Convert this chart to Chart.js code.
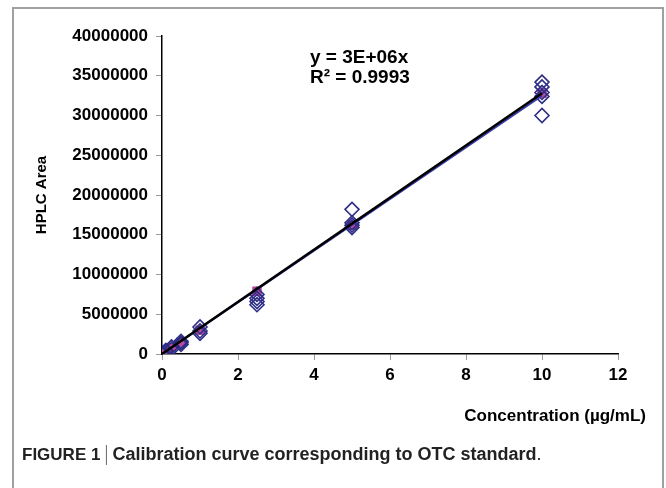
<!DOCTYPE html>
<html>
<head>
<meta charset="utf-8">
<script src="https://cdn.jsdelivr.net/npm/chart.js@4/dist/chart.umd.min.js"></script>
<style>
  html, body { margin: 0; padding: 0; background: #fff; }
  #wrap { position: relative; width: 666px; height: 488px; }
</style>
</head>
<body>
<div id="wrap"><canvas id="calibrationChart" width="666" height="488"></canvas></div>
<script>
// Concentrations (µg/mL)
const concentrations = [0, 0.1, 0.25, 0.5, 1, 2.5, 5, 10];
// Moyennes (carrés magenta)
const meanAreas = [0, 330000, 800000, 1500000, 3000000, 7900000, 16200000, 32800000];
// Réplicats (losanges)
const replicateX = [
    0, 0, 0.1, 0.1, 0.25, 0.25, 0.5, 0.5, 0.5,
    1, 1, 1, 2.5, 2.5, 2.5, 2.5,
    5, 5, 5, 5,
    10, 10, 10, 10, 10
];
const replicateY = [
    0, 100000, 300000, 450000, 600000, 900000, 1200000, 1400000, 1600000,
    3400000, 2900000, 2600000, 7500000, 7000000, 6600000, 6200000,
    18200000, 16500000, 16200000, 15900000,
    34200000, 33600000, 32900000, 32400000, 30000000
];
// Droites de tendance
const trendX = [0, 10];
const trendBlack = [0, 32800000];
const trendBlue = [0, 32500000];
const xTicks = [0, 2, 4, 6, 8, 10, 12];

const FONT = '"Liberation Sans", Arial, sans-serif';

const decorPlugin = {
    id: 'decor',
    afterDraw(chart) {
        const ctx = chart.ctx;
        ctx.save();
        // cadre gris
        ctx.strokeStyle = '#a0a0a0';
        ctx.lineWidth = 2;
        ctx.beginPath();
        ctx.moveTo(13, 500);
        ctx.lineTo(13, 8);
        ctx.lineTo(663, 8);
        ctx.lineTo(663, 500);
        ctx.stroke();

        ctx.fillStyle = '#000';
        // équation
        ctx.font = 'bold 19px ' + FONT;
        ctx.textAlign = 'left';
        ctx.textBaseline = 'middle';
        ctx.fillText('y = 3E+06x', 310, 58);
        ctx.fillText('R² = 0.9993', 310, 78);

        // titre de l'axe x
        ctx.font = 'bold 17px ' + FONT;
        ctx.textAlign = 'right';
        ctx.fillText('Concentration (µg/mL)', 646, 416);

        // titre de l'axe y
        ctx.save();
        ctx.translate(42, 195);
        ctx.rotate(-Math.PI / 2);
        ctx.textAlign = 'center';
        ctx.font = 'bold 15px ' + FONT;
        ctx.fillText('HPLC Area', 0, 0);
        ctx.restore();

        // légende de la figure
        ctx.textAlign = 'left';
        ctx.font = 'bold 17px ' + FONT;
        ctx.fillStyle = '#222';
        let x = 22;
        const y = 455;
        ctx.fillText('FIGURE 1', x, y);
        x += ctx.measureText('FIGURE 1').width + 6;
        ctx.strokeStyle = '#666';
        ctx.lineWidth = 1;
        ctx.beginPath();
        ctx.moveTo(x, y - 10);
        ctx.lineTo(x, y + 10);
        ctx.stroke();
        x += 6;
        ctx.font = 'bold 18px ' + FONT;
        ctx.fillText('Calibration curve corresponding to OTC standard', x, y);
        x += ctx.measureText('Calibration curve corresponding to OTC standard').width;
        ctx.font = '18px ' + FONT;
        ctx.fillText('.', x, y);
        ctx.restore();
    }
};

new Chart(document.getElementById('calibrationChart'), {
    type: 'scatter',
    data: {
        datasets: [
            {
                label: 'Trend',
                type: 'line',
                data: trendX.map((x, i) => ({ x: x, y: trendBlack[i] })),
                borderColor: '#000',
                borderWidth: 2.5,
                pointRadius: 0,
                order: 0
            },
            {
                label: 'Trend réplicats',
                type: 'line',
                data: trendX.map((x, i) => ({ x: x, y: trendBlue[i] })),
                borderColor: '#3a3aa8',
                borderWidth: 2,
                pointRadius: 0,
                order: 1
            },
            {
                label: 'Réplicats',
                data: replicateX.map((x, i) => ({ x: x, y: replicateY[i] })),
                pointStyle: 'rectRot',
                pointRadius: 7,
                backgroundColor: 'rgba(255,255,255,0)',
                borderColor: '#2e2e86',
                borderWidth: 1.6,
                order: 2
            },
            {
                label: 'Moyenne',
                data: concentrations.map((x, i) => ({ x: x, y: meanAreas[i] })),
                pointStyle: 'rect',
                pointRadius: 6,
                backgroundColor: '#bb4a9e',
                borderColor: '#bb4a9e',
                borderWidth: 1,
                order: 3
            }
        ]
    },
    options: {
        responsive: false,
        animation: false,
        layout: { padding: { top: 36, right: 48, left: 0, bottom: 0 } },
        plugins: {
            legend: { display: false },
            tooltip: { enabled: false }
        },
        scales: {
            x: {
                type: 'linear',
                min: 0,
                max: 12,
                afterBuildTicks: (axis) => { axis.ticks = xTicks.map(v => ({ value: v })); },
                afterFit: (axis) => { axis.height = 134; },
                grid: { drawOnChartArea: false, drawTicks: true, tickLength: 6, color: '#999' },
                border: { color: '#000', width: 1.5 },
                ticks: {
                    color: '#000',
                    font: { family: FONT, size: 17, weight: 'bold' },
                    padding: 5,
                    maxRotation: 0
                }
            },
            y: {
                type: 'linear',
                min: 0,
                max: 40000000,
                afterFit: (axis) => { axis.width = 162; },
                grid: { drawOnChartArea: false, drawTicks: true, tickLength: 6, color: '#999' },
                border: { color: '#000', width: 1.5 },
                ticks: {
                    stepSize: 5000000,
                    color: '#000',
                    font: { family: FONT, size: 17, weight: 'bold' },
                    padding: 8,
                    callback: (v) => String(v)
                }
            }
        }
    },
    plugins: [decorPlugin]
});
</script>
</body>
</html>
